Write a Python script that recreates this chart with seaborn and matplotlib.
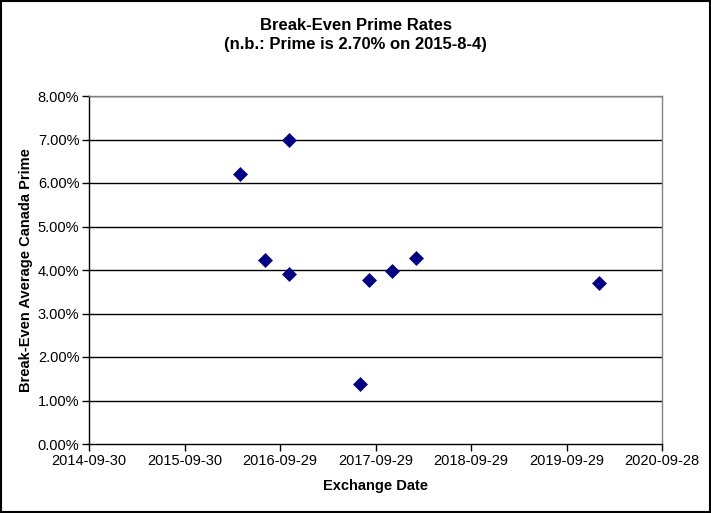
import pandas as pd
import seaborn as sns
import matplotlib.pyplot as plt
import matplotlib.dates as mdates
from matplotlib.patches import Rectangle
from matplotlib.ticker import FuncFormatter

# Values
exchange_dates = ['2016-04-29', '2016-08-04', '2016-11-02', '2016-11-02', '2017-08-02',
                  '2017-09-03', '2017-12-01', '2018-03-01', '2020-02-01']
break_even_prime = [6.20, 4.23, 6.98, 3.90, 1.39, 3.76, 3.97, 4.28, 3.69]

x_tick_labels = ['2014-09-30', '2015-09-30', '2016-09-29', '2017-09-29',
                 '2018-09-29', '2019-09-29', '2020-09-28']
y_ticks = [0, 1, 2, 3, 4, 5, 6, 7, 8]

df = pd.DataFrame({'Exchange Date': pd.to_datetime(exchange_dates),
                   'Prime': break_even_prime})

sns.set_style('white')
plt.rcParams['font.family'] = ['Liberation Sans', 'DejaVu Sans']
plt.rcParams['text.color'] = 'black'
plt.rcParams['axes.labelcolor'] = 'black'
plt.rcParams['xtick.color'] = 'black'
plt.rcParams['ytick.color'] = 'black'

fig = plt.figure(figsize=(7.11, 5.13), dpi=100)
ax = fig.add_axes([89 / 711, 1 - 444 / 513, 573 / 711, 348 / 513])

sns.scatterplot(data=df, x='Exchange Date', y='Prime', marker='D', s=58,
                color='#000080', edgecolor='#000080', linewidth=0, ax=ax, zorder=3)

xt = pd.to_datetime(x_tick_labels)
ax.set_xlim(xt[0], xt[-1])
ax.set_xticks(xt)
ax.xaxis.set_major_formatter(mdates.DateFormatter('%Y-%m-%d'))
ax.set_ylim(0, 8)
ax.set_yticks(y_ticks)
ax.yaxis.set_major_formatter(FuncFormatter(lambda v, p: f'{v:.2f}%'))

for v in y_ticks[1:]:
    ax.axhline(v, color='black', linewidth=1, zorder=1)

for side in ['left', 'bottom']:
    ax.spines[side].set_color('black')
    ax.spines[side].set_linewidth(1)
for side in ['top', 'right']:
    ax.spines[side].set_color('#808080')
    ax.spines[side].set_linewidth(1)

ax.tick_params(axis='both', direction='out', length=5, width=1, color='black',
               labelsize=10.5, pad=2, bottom=True, left=True)

ax.set_xlabel('Exchange Date', fontsize=10.5, fontweight='bold', labelpad=8)
ax.set_ylabel('Break-Even Average Canada Prime', fontsize=10.5, fontweight='bold', labelpad=3)

fig.text(0.5, 1 - 26 / 513, 'Break-Even Prime Rates', ha='center', va='center',
         fontsize=12, fontweight='bold')
fig.text(0.5, 1 - 44 / 513, '(n.b.: Prime is 2.70% on 2015-8-4)', ha='center', va='center',
         fontsize=12, fontweight='bold')

fig.patches.append(Rectangle((0.001, 0.001), 0.997, 0.997, transform=fig.transFigure,
                             fill=False, edgecolor='black', linewidth=1.5))

fig.savefig('out.png', dpi=100)
